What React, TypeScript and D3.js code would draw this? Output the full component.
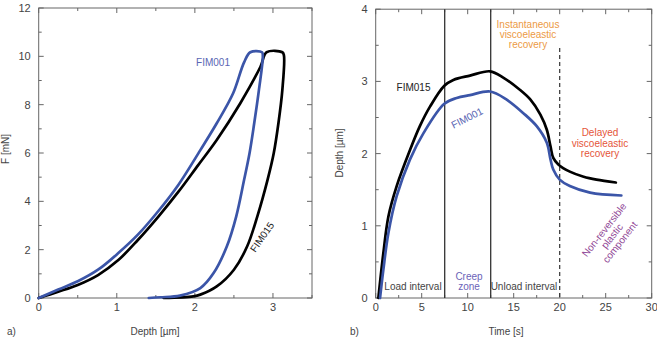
import React from "react";
import * as d3 from "d3";

// Panel a) force–depth curves (depth µm, force mN)
const fim015LoadDepth = [0, 0.25, 0.5, 0.76, 1.02, 1.27, 1.53, 1.79, 2.04, 2.28, 2.58, 2.84, 2.92, 3.12, 3.14];
const fim015LoadForce = [0, 0.26, 0.54, 0.95, 1.57, 2.4, 3.36, 4.4, 5.49, 6.54, 8.05, 9.57, 10.17, 10.17, 10.05];
const fim015UnloadDepth = [3.14, 3.12, 3.07, 3.01, 2.93, 2.8, 2.67, 2.5, 2.28, 2.07, 1.98, 1.6];
const fim015UnloadForce = [10.05, 8.6, 7.23, 5.99, 4.88, 3.38, 2.14, 1.17, 0.48, 0.14, 0.07, 0];
const fim001LoadDepth = [0, 0.25, 0.5, 0.76, 1.02, 1.27, 1.53, 1.79, 2.07, 2.28, 2.49, 2.63, 2.71, 2.86, 2.87];
const fim001LoadForce = [0, 0.35, 0.69, 1.17, 1.86, 2.62, 3.59, 4.69, 6.12, 7.23, 8.47, 9.75, 10.17, 10.17, 10.0];
const fim001UnloadDepth = [2.87, 2.82, 2.76, 2.7, 2.63, 2.53, 2.41, 2.24, 2.07, 1.81, 1.56, 1.41];
const fim001UnloadForce = [10.0, 8.6, 7.23, 5.99, 4.88, 3.38, 2.14, 1.03, 0.41, 0.1, 0.03, 0];

// Panel b) depth–time curves (time s, depth µm)
const fim015Time = [0.29, 0.83, 1.38, 2.28, 3.73, 4.8, 5.9, 7.46, 8.44, 10.25, 12.43, 13.9, 15.7, 16.8, 17.9, 18.6, 19.0, 19.3, 19.85, 21.1, 22.6, 24.0, 26.1];
const fim015Depth = [0, 0.62, 1.13, 1.55, 2.05, 2.38, 2.65, 2.94, 3.02, 3.08, 3.14, 3.05, 2.88, 2.75, 2.54, 2.33, 2.1, 1.94, 1.85, 1.75, 1.68, 1.64, 1.6];
const fim001Time = [0.47, 0.83, 1.38, 2.28, 3.73, 5.18, 7.46, 8.8, 10.25, 12.43, 14.2, 16.05, 17.5, 18.6, 19.0, 19.3, 20.0, 21.1, 23.3, 26.7];
const fim001Depth = [0, 0.39, 0.9, 1.41, 1.92, 2.28, 2.69, 2.77, 2.81, 2.86, 2.75, 2.56, 2.38, 2.15, 1.92, 1.78, 1.64, 1.55, 1.46, 1.42];

const intervalBounds = [7.5, 12.5];
const delayedStart = 20;

const aXTicks = [0, 1, 2, 3];
const aYTicks = [0, 2, 4, 6, 8, 10, 12];
const bXTicks = [0, 5, 10, 15, 20, 25, 30];
const bYTicks = [0, 1, 2, 3, 4];

const BLUE = "#3b55a8";
const BLACK = "#000";
const FONT = "'Liberation Sans', Arial, Helvetica, sans-serif";
const AXIS = "#666";
const TXT = "#444";

type Pt = [number, number];
const zip = (a: number[], b: number[]): Pt[] => a.map((v, i) => [v, b[i]]);

function Frame({ x, y, majorX, minorX, majorY, minorY }: any) {
  const [x0, x1] = x.range();
  const [y0, y1] = y.range();
  const maj = 5, mnr = 3;
  return (
    <g>
      <rect x={x0} y={y1} width={x1 - x0} height={y0 - y1} fill="none" stroke={AXIS} strokeWidth={1} />
      {minorX.map((t: number) => (
        <g key={"mx" + t} stroke={AXIS}>
          <line x1={x(t)} x2={x(t)} y1={y0} y2={y0 - mnr} />
          <line x1={x(t)} x2={x(t)} y1={y1} y2={y1 + mnr} />
        </g>
      ))}
      {majorX.map((t: number) => (
        <g key={"Mx" + t}>
          <line x1={x(t)} x2={x(t)} y1={y0} y2={y0 - maj} stroke={AXIS} />
          <line x1={x(t)} x2={x(t)} y1={y1} y2={y1 + maj} stroke={AXIS} />
          <text x={x(t)} y={y0 + 13} textAnchor="middle" fontSize={11} fill={TXT} fontFamily={FONT}>
            {t}
          </text>
        </g>
      ))}
      {minorY.map((t: number) => (
        <g key={"my" + t} stroke={AXIS}>
          <line x1={x0} x2={x0 + mnr} y1={y(t)} y2={y(t)} />
          <line x1={x1} x2={x1 - mnr} y1={y(t)} y2={y(t)} />
        </g>
      ))}
      {majorY.map((t: number) => (
        <g key={"My" + t}>
          <line x1={x0} x2={x0 + maj} y1={y(t)} y2={y(t)} stroke={AXIS} />
          <line x1={x1} x2={x1 - maj} y1={y(t)} y2={y(t)} stroke={AXIS} />
          <text x={x0 - 8} y={y(t) + 4} textAnchor="end" fontSize={11} fill={TXT} fontFamily={FONT}>
            {t}
          </text>
        </g>
      ))}
    </g>
  );
}

export default function App() {
  // Panel a scales
  const xa = d3.scaleLinear().domain([0, 3.5]).range([38.7, 312]);
  const ya = d3.scaleLinear().domain([0, 12]).range([298, 8]);
  // Panel b scales
  const xb = d3.scaleLinear().domain([0, 30]).range([375.7, 651.7]);
  const yb = d3.scaleLinear().domain([0, 4]).range([298, 9.2]);

  const curve = d3.curveCatmullRom.alpha(0.5);
  const lineA = d3.line<Pt>().x((d) => xa(d[0])).y((d) => ya(d[1])).curve(curve);
  const lineB = d3.line<Pt>().x((d) => xb(d[0])).y((d) => yb(d[1])).curve(curve);

  const range = (a: number, b: number, s: number) => d3.range(a, b + s / 2, s);

  return (
    <svg width={657} height={339} style={{ position: "absolute", left: 0, top: 0, background: "#fff" }} fontFamily={FONT}>
      {/* ---------- a) ---------- */}
      <Frame x={xa} y={ya} majorX={aXTicks} minorX={range(0.5, 3.5, 1)} majorY={aYTicks} minorY={range(1, 11, 2)} />
      <g fill="none" strokeWidth={2.7} strokeLinejoin="round" strokeLinecap="round">
        <path d={lineA(zip(fim015LoadDepth, fim015LoadForce).concat(zip(fim015UnloadDepth, fim015UnloadForce).slice(1))) || ""} stroke={BLACK} />
        <path d={lineA(zip(fim001LoadDepth, fim001LoadForce).concat(zip(fim001UnloadDepth, fim001UnloadForce).slice(1))) || ""} stroke={BLUE} />
      </g>
      <text x={213} y={66} textAnchor="middle" fontSize={10} fill="#5a66b4">FIM001</text>
      <text transform="translate(262,237) rotate(-55)" textAnchor="middle" dy={3.5} fontSize={10} fill="#222">FIM015</text>
      <text transform="translate(9,149) rotate(-90)" textAnchor="middle" fontSize={10} fill={TXT}>F [mN]</text>
      <text x={155} y={335} textAnchor="middle" fontSize={10} fill={TXT}>Depth [µm]</text>
      <text x={7} y={335} fontSize={10} fill={TXT}>a)</text>

      {/* ---------- b) ---------- */}
      <Frame x={xb} y={yb} majorX={bXTicks} minorX={range(2.5, 27.5, 5)} majorY={bYTicks} minorY={range(0.5, 3.5, 1)} />
      {intervalBounds.map((t) => (
        <line key={t} x1={xb(t)} x2={xb(t)} y1={yb(0)} y2={yb(4)} stroke="#333" strokeWidth={1.3} />
      ))}
      <line x1={xb(delayedStart)} x2={xb(delayedStart)} y1={48} y2={yb(0)} stroke="#333" strokeWidth={1.2} strokeDasharray="4,3" />
      <g fill="none" strokeWidth={2.7} strokeLinejoin="round" strokeLinecap="round">
        <path d={lineB(zip(fim015Time, fim015Depth)) || ""} stroke={BLACK} />
        <path d={lineB(zip(fim001Time, fim001Depth)) || ""} stroke={BLUE} />
      </g>
      <text x={413.5} y={91} textAnchor="middle" fontSize={10} fill="#222">FIM015</text>
      <text transform="translate(467,118) rotate(-27)" textAnchor="middle" dy={3.5} fontSize={10} fill="#5a66b4">FIM001</text>
      <g fontSize={10} fill="#ec9a45" textAnchor="middle">
        <text x={528} y={27.5}>Instantaneous</text>
        <text x={528} y={37.8}>viscoeleastic</text>
        <text x={528} y={48}>recovery</text>
      </g>
      <g fontSize={10} fill="#e5553a" textAnchor="middle">
        <text x={600} y={136}>Delayed</text>
        <text x={600} y={146.5}>viscoeleastic</text>
        <text x={600} y={157}>recovery</text>
      </g>
      <g transform="translate(612,236) rotate(-52)" fontSize={10} fill="#8f4796" textAnchor="middle">
        <text y={-6.5}>Non-reversible</text>
        <text y={3.5}>plastic</text>
        <text y={13.5}>component</text>
      </g>
      <text x={413} y={289.5} textAnchor="middle" fontSize={10} fill={TXT}>Load interval</text>
      <g fontSize={10} fill="#6b63b8" textAnchor="middle">
        <text x={469} y={279.5}>Creep</text>
        <text x={469} y={289.5}>zone</text>
      </g>
      <text x={524} y={289.5} textAnchor="middle" fontSize={10} fill={TXT}>Unload interval</text>
      <text transform="translate(343,153) rotate(-90)" textAnchor="middle" fontSize={10} fill={TXT}>Depth [µm]</text>
      <text x={506} y={335} textAnchor="middle" fontSize={10} fill={TXT}>Time [s]</text>
      <text x={350} y={335} fontSize={10} fill={TXT}>b)</text>
    </svg>
  );
}
